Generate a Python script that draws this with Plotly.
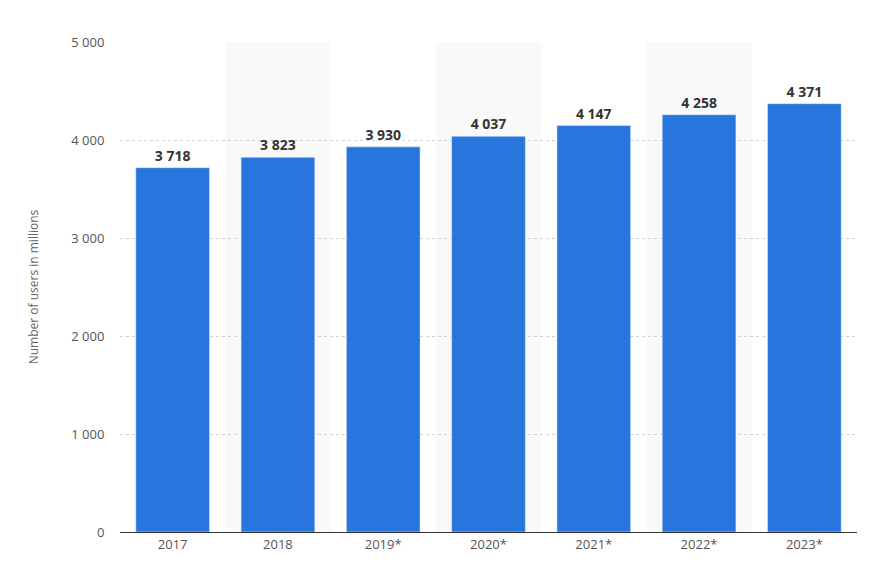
import plotly.graph_objects as go

years = ["2017", "2018", "2019*", "2020*", "2021*", "2022*", "2023*"]
users = [3718, 3823, 3930, 4037, 4147, 4258, 4371]
labels = [f"{v:,}".replace(",", " ") for v in users]
tick_vals = [0, 1000, 2000, 3000, 4000, 5000]
tick_text = [f"{v:,}".replace(",", " ") for v in tick_vals]

fig = go.Figure(go.Bar(
    x=years, y=users, text=labels, textposition="outside",
    textfont=dict(size=14, color="#333333", family="Open Sans"),
    marker_color="#2876dd", cliponaxis=False,
))

# light background bands behind every other category
shapes = []
for i in range(1, len(years), 2):
    shapes.append(dict(type="rect", xref="x", yref="paper", x0=i - 0.5, x1=i + 0.5,
                       y0=0, y1=1, fillcolor="#f9f9f9", line_width=0, layer="below"))

fig.update_layout(
    width=875, height=585, margin=dict(l=112, r=26, t=34, b=61),
    plot_bgcolor="white", paper_bgcolor="white",
    font=dict(family="Open Sans", color="#555555", size=12),
    bargap=0.3, shapes=shapes, showlegend=False,
)
fig.update_traces(texttemplate="<b>%{text}</b>")
fig.update_xaxes(showline=True, linecolor="#333333", linewidth=1, ticks="",
                 tickfont=dict(size=13, color="#555555"))
fig.update_yaxes(range=[0, 5000], tickvals=tick_vals, ticktext=tick_text,
                 gridcolor="#d0d0d0", griddash="dot", zeroline=False,
                 ticks="outside", ticklen=12, tickcolor="white",
                 title=dict(text="Number of users in millions", font=dict(size=12, color="#666666"), standoff=30),
                 tickfont=dict(size=13, color="#555555"))

fig.write_html("out.html")
